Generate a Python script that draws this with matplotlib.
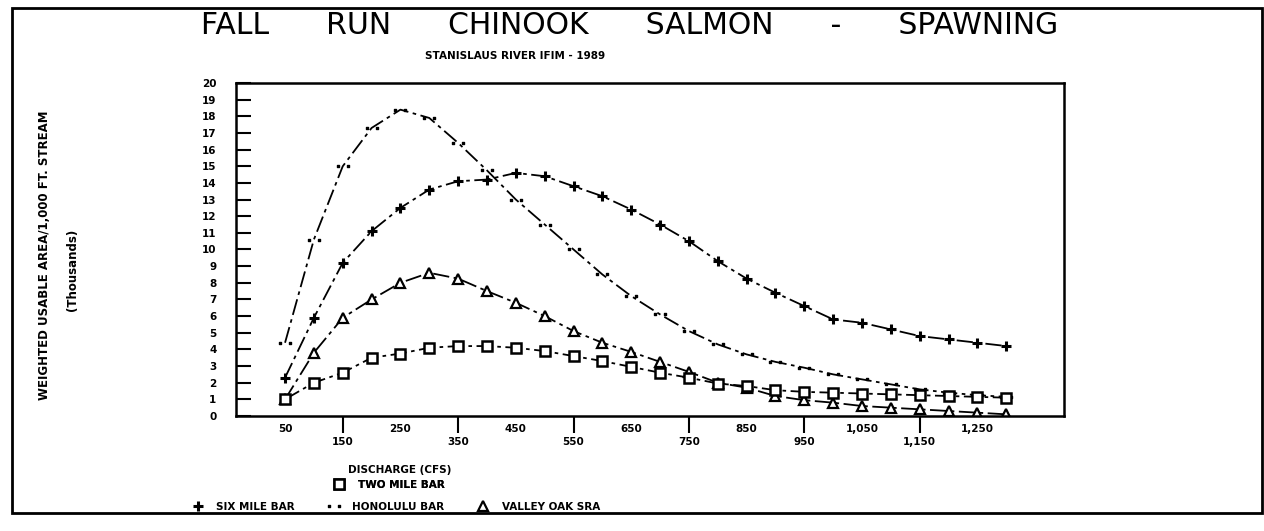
import matplotlib
matplotlib.use("Agg")
import matplotlib.pyplot as plt
from matplotlib.lines import Line2D
from matplotlib.patches import Rectangle

# discharge (cfs) and weighted usable area (thousands)
discharge = [50, 100, 150, 200, 250, 300, 350, 400, 450, 500, 550, 600, 650,
             700, 750, 800, 850, 900, 950, 1000, 1050, 1100, 1150, 1200, 1250, 1300]
six_mile_bar = [2.3, 5.9, 9.2, 11.1, 12.5, 13.6, 14.1, 14.2, 14.6, 14.4, 13.8, 13.2, 12.4,
                11.5, 10.5, 9.3, 8.25, 7.4, 6.6, 5.8, 5.6, 5.2, 4.8, 4.6, 4.4, 4.2]
honolulu_bar = [4.4, 10.6, 15.0, 17.3, 18.4, 17.9, 16.4, 14.75, 13.0, 11.5, 10.0, 8.5, 7.2,
                6.1, 5.1, 4.3, 3.7, 3.25, 2.9, 2.5, 2.2, 1.9, 1.6, 1.4, 1.25, 1.15]
valley_oak_sra = [1.0, 3.8, 5.9, 7.0, 8.0, 8.6, 8.25, 7.5, 6.8, 6.0, 5.1, 4.4, 3.85,
                  3.25, 2.65, 2.0, 1.7, 1.2, 0.95, 0.8, 0.6, 0.5, 0.4, 0.3, 0.2, 0.1]
two_mile_bar = [1.0, 2.0, 2.6, 3.5, 3.75, 4.1, 4.2, 4.2, 4.1, 3.9, 3.6, 3.3, 2.95,
                2.6, 2.3, 1.95, 1.8, 1.55, 1.45, 1.4, 1.35, 1.3, 1.25, 1.2, 1.15, 1.1]

row1_ticks = [50, 250, 450, 650, 850, 1050, 1250]
row1_labels = ["50", "250", "450", "650", "850", "1,050", "1,250"]
row2_ticks = [150, 350, 550, 750, 950, 1150]
row2_labels = ["150", "350", "550", "750", "950", "1,150"]

W, H = 1264, 531
fig = plt.figure(figsize=(W / 100, H / 100), dpi=100)
ax = fig.add_axes([236 / W, 1 - 416 / H, (1064 - 236) / W, (416 - 83) / H])

dash = (0, (9, 2.5, 2, 2.5))
ax.plot(discharge, honolulu_bar, color="black", lw=1.3, linestyle=dash,
        marker=r"$\cdot\cdot$", ms=9)
ax.plot(discharge, six_mile_bar, color="black", lw=1.3, linestyle=dash,
        marker="+", ms=7, mew=2.2)
ax.plot(discharge, valley_oak_sra, color="black", lw=1.3, linestyle=dash,
        marker="^", ms=6.5, mew=1.6, mfc="white")
ax.plot(discharge, two_mile_bar, color="black", lw=1.3, linestyle=dash,
        marker="s", ms=6.5, mew=1.8, mfc="white")

ax.set_xlim(-35, 1400)
ax.set_ylim(0, 20)
ax.set_yticks(range(0, 21))
ax.tick_params(axis="y", direction="in", length=11, width=1.5, pad=14,
               labelsize=7.5)
for lab in ax.get_yticklabels():
    lab.set_fontweight("bold")

ax.set_xticks(row2_ticks, labels=row2_labels)
ax.set_xticks(row1_ticks, labels=row1_labels, minor=True)
ax.tick_params(axis="x", which="major", direction="out", length=12, width=1.5,
               pad=3, labelsize=7.5)
ax.tick_params(axis="x", which="minor", length=0, pad=6, labelsize=7.5)
for lab in ax.get_xticklabels(which="both"):
    lab.set_fontweight("bold")

for sp in ax.spines.values():
    sp.set_linewidth(1.8)

fig.text(630 / W, 1 - 25 / H,
         "FALL      RUN      CHINOOK      SALMON      -      SPAWNING",
         ha="center", va="center", fontsize=21.5, family="DejaVu Sans")
fig.text(515 / W, 1 - 56 / H, "STANISLAUS RIVER IFIM - 1989",
         ha="center", va="center", fontsize=7.5, fontweight="bold")
fig.text(45 / W, 1 - 255 / H, "WEIGHTED USABLE AREA/1,000 FT. STREAM",
         ha="center", va="center", rotation=90, fontsize=8.5, fontweight="bold")
fig.text(72 / W, 1 - 270 / H, "(Thousands)",
         ha="center", va="center", rotation=90, fontsize=8.5, fontweight="bold")
fig.text(400 / W, 1 - 470 / H, "DISCHARGE (CFS)",
         ha="center", va="center", fontsize=7.5, fontweight="bold")

h_two = Line2D([], [], color="black", linestyle="none", marker="s", ms=6.5,
               mew=1.8, mfc="white")
h_six = Line2D([], [], color="black", linestyle="none", marker="+", ms=7, mew=2.2)
h_hon = Line2D([], [], color="black", linestyle="none", marker=r"$\cdot\cdot$", ms=9)
h_val = Line2D([], [], color="black", linestyle="none", marker="^", ms=6.5,
               mew=1.6, mfc="white")
leg_props = {"weight": "bold", "size": 7.5}
leg1 = fig.legend([h_two], ["TWO MILE BAR"], loc="center",
                  bbox_to_anchor=(388 / W, 1 - 485 / H), frameon=False,
                  prop=leg_props, handlelength=1.5, handletextpad=1.0)
fig.legend([h_six, h_hon, h_val], ["SIX MILE BAR", "HONOLULU BAR", "VALLEY OAK SRA"],
           loc="center", ncol=3, bbox_to_anchor=(395 / W, 1 - 507 / H),
           frameon=False, prop=leg_props, handlelength=1.5, handletextpad=1.0,
           columnspacing=3.0)
fig.add_artist(leg1)

fig.add_artist(Rectangle((12 / W, 1 - 513 / H), 1250 / W, 505 / H,
                         transform=fig.transFigure, fill=False, lw=2,
                         edgecolor="black"))

fig.savefig("out.png", dpi=100)
